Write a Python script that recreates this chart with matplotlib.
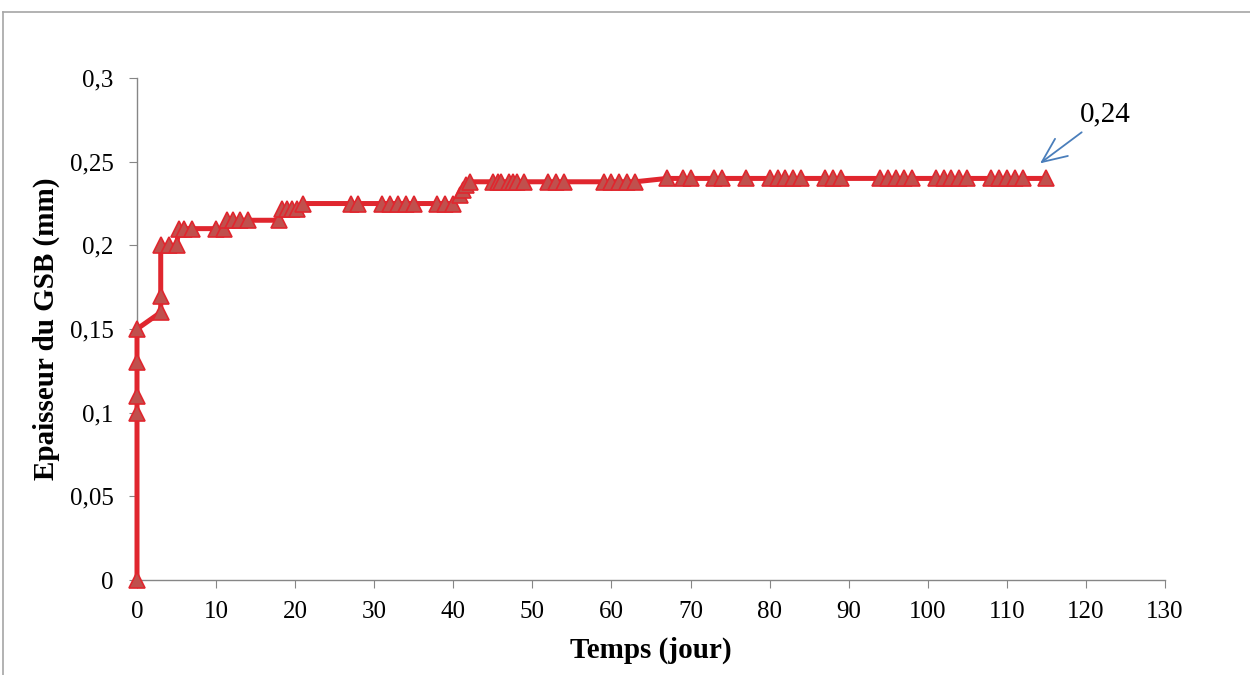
import matplotlib
matplotlib.use("Agg")
import matplotlib.pyplot as plt
from matplotlib.ticker import FuncFormatter, MultipleLocator
from matplotlib.lines import Line2D

plt.rcParams.update({"font.family": ["Liberation Serif", "DejaVu Serif"]})

# Temps (jour) et epaisseur du GSB (mm)
temps = [0, 0, 0, 0, 0,
         3, 3, 3, 4, 5,
         5.3, 6, 7, 10, 11,
         11.4, 12.2, 13, 14, 18,
         18.3, 19, 19.6, 20.2, 21,
         27, 28, 31, 32, 33, 34, 35, 38, 39, 40,
         40.8, 41.2, 41.6, 42.1,
         45, 45.6, 46, 47, 47.5, 48, 49, 52, 53, 54, 59, 60, 61, 62, 63,
         67, 69, 70, 73, 74, 77, 80, 81, 82, 83, 84, 87, 88, 89,
         94, 95, 96, 97, 98, 101, 102, 103, 104, 105,
         108, 109, 110, 111, 112, 115]
epaisseur = [0, 0.10, 0.11, 0.13, 0.15,
             0.16, 0.17, 0.20, 0.20, 0.20,
             0.21, 0.21, 0.21, 0.21, 0.21,
             0.215, 0.215, 0.215, 0.215, 0.215,
             0.222, 0.222, 0.222, 0.222, 0.225,
             0.225, 0.225, 0.225, 0.225, 0.225, 0.225, 0.225, 0.225, 0.225, 0.225,
             0.23, 0.233, 0.236, 0.238,
             0.238, 0.238, 0.238, 0.238, 0.238, 0.238, 0.238, 0.238, 0.238, 0.238,
             0.238, 0.238, 0.238, 0.238, 0.238,
             0.24, 0.24, 0.24, 0.24, 0.24, 0.24, 0.24, 0.24, 0.24, 0.24, 0.24,
             0.24, 0.24, 0.24,
             0.24, 0.24, 0.24, 0.24, 0.24, 0.24, 0.24, 0.24, 0.24, 0.24,
             0.24, 0.24, 0.24, 0.24, 0.24, 0.24]
valeur_finale = "0,24"

fig = plt.figure(figsize=(12.5, 6.75), dpi=100)
ax = fig.add_axes([0.1096, 0.1407, 0.8224, 0.7437])

ax.plot(temps, epaisseur, color="#E0262E", lw=3.6, marker="^", ms=11,
        mfc="#C0504D", mec="#E0262E", mew=1.2, zorder=3, clip_on=False)

ax.set_xlim(0, 130)
ax.set_ylim(0, 0.3)
ax.xaxis.set_major_locator(MultipleLocator(10))
ax.yaxis.set_major_locator(MultipleLocator(0.05))
virgule = FuncFormatter(lambda v, p: ("%g" % round(v, 3)).replace(".", ","))
ax.yaxis.set_major_formatter(virgule)
ax.xaxis.set_major_formatter(FuncFormatter(lambda v, p: "%d" % v))

for s in ["top", "right"]:
    ax.spines[s].set_visible(False)
for s in ["left", "bottom"]:
    ax.spines[s].set_color("#868686")
    ax.spines[s].set_linewidth(1.0)
ax.tick_params(axis="x", direction="out", length=6, color="#868686",
               labelsize=18, pad=9)
ax.tick_params(axis="y", direction="out", length=6, color="#868686",
               labelsize=18, pad=11)

ax.set_xlabel("Temps (jour)", fontsize=21, fontweight="bold", labelpad=10)
ax.set_ylabel("Epaisseur du GSB (mm)", fontsize=21, fontweight="bold")
ax.yaxis.set_label_coords(-0.075, 0.5)

ax.annotate(valeur_finale, xy=(temps[-1] - 0.8, epaisseur[-1] + 0.009),
            xytext=(119.2, 0.278), fontsize=21, va="center", ha="left",
            arrowprops=dict(arrowstyle="->,head_length=0.8,head_width=0.35",
                            color="#4A7EBB", lw=1.3,
                            shrinkA=2, shrinkB=0, mutation_scale=22))

# cadre exterieur
fig.add_artist(Line2D([3 / 1250, 3 / 1250], [0, 1 - 12 / 675],
                      transform=fig.transFigure, color="#A6A6A6", lw=1.2))
fig.add_artist(Line2D([3 / 1250, 1], [1 - 12 / 675, 1 - 12 / 675],
                      transform=fig.transFigure, color="#A6A6A6", lw=1.2))

fig.savefig("out.png", dpi=100)
